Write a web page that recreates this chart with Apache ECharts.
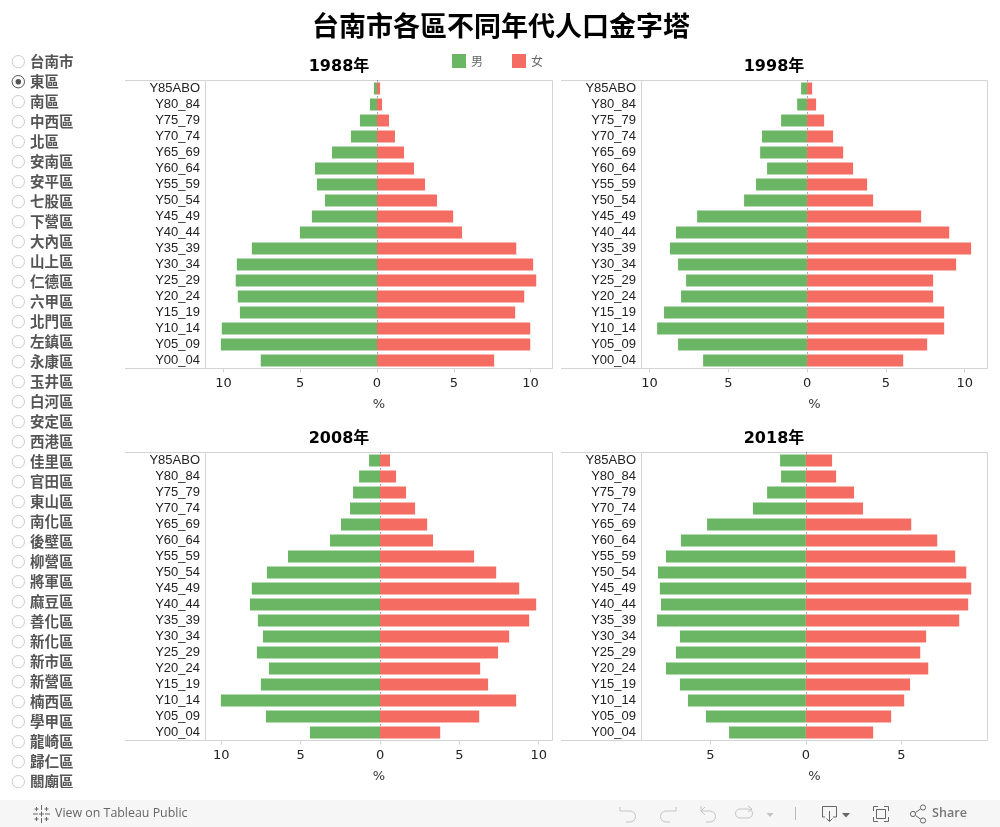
<!DOCTYPE html>
<html>
<head>
<meta charset="utf-8">
<script src="https://cdn.jsdelivr.net/npm/echarts@6/dist/echarts.min.js"></script>
<style>html,body{margin:0;padding:0;background:#fff}#c{width:1000px;height:827px}</style>
</head>
<body>
<div id="c"></div>
<script>
const chartTitle = '台南市各區不同年代人口金字塔';
const ageGroups = ['Y85ABO','Y80_84','Y75_79','Y70_74','Y65_69','Y60_64','Y55_59','Y50_54','Y45_49','Y40_44','Y35_39','Y30_34','Y25_29','Y20_24','Y15_19','Y10_14','Y05_09','Y00_04'];
const districts = ['台南市','東區','南區','中西區','北區','安南區','安平區','七股區','下營區','大內區','山上區','仁德區','六甲區','北門區','左鎮區','永康區','玉井區','白河區','安定區','西港區','佳里區','官田區','東山區','南化區','後壁區','柳營區','將軍區','麻豆區','善化區','新化區','新市區','新營區','楠西區','學甲區','龍崎區','歸仁區','關廟區'];
const selectedDistrict = '東區';
const years = ['1988年','1998年','2008年','2018年'];
const male1988 = [0.20,0.46,1.11,1.70,2.93,4.04,3.91,3.39,4.24,5.02,8.15,9.13,9.20,9.07,8.93,10.11,10.17,7.57];
const female1988 = [0.20,0.33,0.78,1.17,1.76,2.41,3.13,3.91,4.96,5.54,9.07,10.17,10.37,9.59,9.00,9.98,9.98,7.63];
const male1998 = [0.38,0.63,1.65,2.86,2.98,2.54,3.24,4.00,6.98,8.32,8.70,8.19,7.68,8.00,9.08,9.52,8.19,6.60];
const female1998 = [0.32,0.57,1.08,1.65,2.29,2.92,3.81,4.19,7.24,9.02,10.41,9.46,8.00,8.00,8.70,8.70,7.62,6.10];
const male2008 = [0.69,1.32,1.70,1.89,2.46,3.15,5.80,7.13,8.08,8.20,7.70,7.38,7.76,7.00,7.51,10.03,7.19,4.42];
const female2008 = [0.63,1.01,1.64,2.21,2.97,3.34,5.93,7.32,8.77,9.84,9.40,8.14,7.44,6.31,6.81,8.58,6.25,3.79];
const male2018 = [1.35,1.30,2.03,2.77,5.17,6.54,7.32,7.74,7.64,7.58,7.79,6.59,6.80,7.32,6.59,6.17,5.23,4.02];
const female2018 = [1.37,1.58,2.52,2.99,5.51,6.87,7.81,8.39,8.65,8.49,8.02,6.29,5.98,6.40,5.45,5.14,4.46,3.52];
const axisRanges = [[-11.17,11.43],[-10.51,11.45],[-11.0,10.87],[-8.60,9.50]];
const tickValues = [[-10,-5,0,5,10],[-10,-5,0,5,10],[-10,-5,0,5,10],[-5,0,5]];
const males = [male1988,male1998,male2008,male2018];
const females = [female1988,female1998,female2008,female2018];

const GREEN = '#6ab664', RED = '#f46c62', FRAME = '#d4d4d4';
const CJK = '"Noto Sans CJK TC","Noto Sans CJK SC",sans-serif';
const panels = [
  {left:205.5, top:80.5, width:347, outer:125, titleX:339, titleY:59},
  {left:641.5, top:80.5, width:346, outer:561, titleX:774, titleY:59},
  {left:205.5, top:452.5, width:347, outer:125, titleX:339, titleY:431},
  {left:641.5, top:452.5, width:346, outer:561, titleX:774, titleY:431}
];
const H = 288;

const grid=[], xAxis=[], yAxis=[], series=[], graphic=[];
const title=[{text:chartTitle,left:501,top:12,padding:0,textAlign:'center',
  textStyle:{fontFamily:CJK,fontSize:27,fontWeight:'bold',color:'#000'}}];

panels.forEach((p,i)=>{
  grid.push({left:p.left,top:p.top,width:p.width,height:H,show:true,borderColor:FRAME,borderWidth:1,backgroundColor:'#fff'});
  title.push({text:years[i],left:p.titleX,top:p.titleY,padding:0,textAlign:'center',
    textStyle:{fontFamily:'"DejaVu Sans",'+CJK,fontSize:16,fontWeight:'bold',color:'#000'}});
  xAxis.push({type:'value',gridIndex:i,min:axisRanges[i][0],max:axisRanges[i][1],
    name:'%',nameLocation:'middle',nameGap:30,nameTextStyle:{fontFamily:'"DejaVu Sans"',fontSize:13,color:'#333'},
    axisLine:{show:false},
    axisTick:{show:true,length:4,lineStyle:{color:FRAME},customValues:tickValues[i]},
    axisLabel:{margin:9,fontFamily:'"DejaVu Sans"',fontSize:13,color:'#222',customValues:tickValues[i],formatter:v=>String(Math.abs(v))},
    splitLine:{show:false}});
  yAxis.push({type:'category',gridIndex:i,data:ageGroups,inverse:true,
    axisLine:{show:false},axisTick:{show:false},
    axisLabel:{margin:5.5,padding:[4,0,0,0],fontFamily:'"Liberation Sans"',fontSize:13,color:'#222',interval:0},
    splitLine:{show:false}});
  series.push({name:'男',type:'bar',xAxisIndex:i,yAxisIndex:i,stack:'p'+i,barWidth:12,z:3,
    itemStyle:{color:GREEN},data:males[i].map(v=>-v),
    markLine:{silent:true,symbol:'none',z:2,label:{show:false},animation:false,
      lineStyle:{color:'#555',type:[1,3],width:1},data:[{xAxis:0}]}});
  series.push({name:'女',type:'bar',xAxisIndex:i,yAxisIndex:i,stack:'p'+i,barWidth:12,z:3,
    itemStyle:{color:RED},data:females[i]});
  [p.top,p.top+H].forEach(y=>graphic.push({type:'line',silent:true,z:5,
    shape:{x1:p.outer,y1:y,x2:p.left,y2:y},style:{stroke:FRAME,lineWidth:1}}));
});

// district radio list
districts.forEach((d,i)=>{
  const y = 61.5+20*i, on = d===selectedDistrict;
  graphic.push({type:'circle',silent:true,shape:{cx:18.3,cy:y+.2,r:6.2},style:{fill:'#fff',stroke:on?'#555':'#ccc',lineWidth:1}});
  if(on) graphic.push({type:'circle',silent:true,shape:{cx:18.3,cy:y+.2,r:2.8},style:{fill:'#555'}});
  graphic.push({type:'text',silent:true,x:30,y:y,style:{text:d,fill:'#555',font:'bold 14.5px '+CJK,textVerticalAlign:'middle',textAlign:'left'}});
});
// clip of the list and toolbar
graphic.push({type:'rect',silent:true,z:6,shape:{x:0,y:788,width:120,height:12},style:{fill:'#fff'}});
graphic.push({type:'rect',silent:true,z:6,shape:{x:0,y:800,width:1000,height:27},style:{fill:'#f6f6f6'}});
const LIGHT='#c4c4c4', DARK='#666';
const pl=(stroke,...lines)=>lines.forEach(pts=>graphic.push({type:'polyline',silent:true,z:7,shape:{points:pts},style:{stroke,fill:null,lineWidth:1}}));
const tri=(fill,pts)=>graphic.push({type:'polygon',silent:true,z:7,shape:{points:pts},style:{fill}});
const arc=(stroke,cx,cy,r,a0,a1,cw)=>graphic.push({type:'arc',silent:true,z:7,shape:{cx,cy,r,startAngle:a0,endAngle:a1,clockwise:cw},style:{stroke,fill:null,lineWidth:1}});
const PI=Math.PI;
// Tableau mark
pl(DARK,[[41.5,805],[41.5,810]],[[41.5,818],[41.5,823]],[[33,814],[38,814]],[[45,814],[50,814]],[[39,814],[44,814]],[[41.5,811.5],[41.5,816.5]],[[36.5,807],[36.5,811]],[[34.5,809],[38.5,809]],[[46.5,807],[46.5,811]],[[44.5,809],[48.5,809]],[[36.5,817],[36.5,821]],[[34.5,819],[38.5,819]],[[46.5,817],[46.5,821]],[[44.5,819],[48.5,819]]);
// undo, redo, revert, refresh
pl(LIGHT,[[620,807],[620,811],[630,811]],[[630,822],[626,822]]); arc(LIGHT,630,816.5,5.5,-PI/2,PI/2,true);
pl(LIGHT,[[676,807],[676,811],[666,811]],[[666,822],[670,822]]); arc(LIGHT,666,816.5,5.5,PI/2,-PI/2,true);
pl(LIGHT,[[701,806],[701,811],[710,811]],[[705,807],[701,811],[705,815]],[[710,822],[706,822]]); arc(LIGHT,710,816.5,5.5,-PI/2,PI/2,true);
pl(LIGHT,[[740,809],[748,809]],[[740,818],[748,818]],[[748,806],[752,809],[748,812]]); arc(LIGHT,740,813.5,4.5,PI/2,-PI/2,true); arc(LIGHT,748,813.5,4.5,-PI/2,PI/2,true);
tri(LIGHT,[[766.5,813],[773.5,813],[770,817]]);
pl('#bbb',[[795.5,807],[795.5,820]]);
// download
pl(DARK,[[825,817],[822.5,817],[822.5,806.5],[836.5,806.5],[836.5,817],[833,817]],[[829.5,811],[829.5,821]],[[826.5,818.5],[829.5,821.5],[832.5,818.5]]);
tri(DARK,[[842,813],[850,813],[846,817.5]]);
// full screen
pl(DARK,[[873.5,811],[873.5,806.5],[878,806.5]],[[884,806.5],[888.5,806.5],[888.5,811]],[[888.5,817],[888.5,821.5],[884,821.5]],[[878,821.5],[873.5,821.5],[873.5,817]],[[876.5,809.5],[885.5,809.5],[885.5,818.5],[876.5,818.5],[876.5,809.5]]);
// share
pl(DARK,[[915.5,812.5],[920.5,809]],[[915.5,815.5],[920.5,819]]);
[[913,814],[923,807.5],[923,820.5]].forEach(c=>graphic.push({type:'circle',silent:true,z:7,shape:{cx:c[0],cy:c[1],r:2.6},style:{fill:'#f6f6f6',stroke:DARK,lineWidth:1}}));
graphic.push({type:'text',silent:true,z:7,x:55,y:813.5,style:{text:'View on Tableau Public',fill:'#666',font:'12.4px "Open Sans"',textVerticalAlign:'middle'}});
graphic.push({type:'text',silent:true,z:7,x:932,y:813.5,style:{text:'Share',fill:'#777',font:'600 12.6px "Open Sans"',textVerticalAlign:'middle'}});

const chart = echarts.init(document.getElementById('c'),null,{renderer:'canvas'});
chart.setOption({
  animation:false,
  backgroundColor:'#fff',
  title,
  legend:{data:['男','女'],left:452,top:54,icon:'rect',itemWidth:14,itemHeight:14,itemGap:29,padding:0,selectedMode:false,
    textStyle:{fontFamily:CJK,fontSize:12,color:'#666'}},
  grid,xAxis,yAxis,series,graphic
});
</script>
</body>
</html>
